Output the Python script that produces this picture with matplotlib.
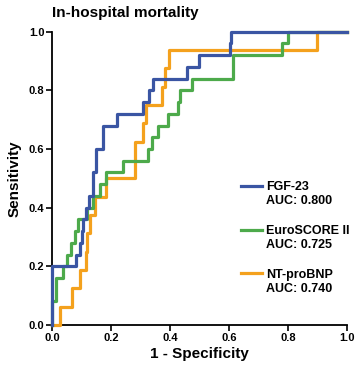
import matplotlib
matplotlib.use('Agg')
import matplotlib.pyplot as plt

# ROC step points (start of each horizontal run)
fgf_fpr = [0, 0, 0.081, 0.095, 0.103, 0.107, 0.117, 0.126, 0.138, 0.151, 0.174, 0.219, 0.31, 0.33, 0.341, 0.457, 0.5, 0.603, 0.607, 1.0]
fgf_tpr = [0, 0.20, 0.24, 0.28, 0.32, 0.36, 0.40, 0.44, 0.52, 0.60, 0.68, 0.72, 0.76, 0.80, 0.84, 0.88, 0.92, 0.96, 1.0, 1.0]

euro_fpr = [0, 0, 0.014, 0.038, 0.05, 0.065, 0.078, 0.09, 0.12, 0.14, 0.163, 0.185, 0.24, 0.325, 0.338, 0.36, 0.395, 0.427, 0.435, 0.474, 0.615, 0.779, 0.80, 1.0]
euro_tpr = [0, 0.08, 0.16, 0.20, 0.24, 0.28, 0.32, 0.36, 0.40, 0.44, 0.48, 0.52, 0.56, 0.60, 0.64, 0.68, 0.72, 0.76, 0.80, 0.84, 0.92, 0.96, 1.0, 1.0]

bnp_fpr = [0, 0.027, 0.067, 0.095, 0.115, 0.12, 0.129, 0.146, 0.183, 0.281, 0.31, 0.32, 0.372, 0.383, 0.397, 0.90, 1.0]
bnp_tpr = [0, 0.0625, 0.125, 0.1875, 0.25, 0.3125, 0.375, 0.4375, 0.50, 0.625, 0.6875, 0.75, 0.8125, 0.875, 0.9375, 1.0, 1.0]

labels = ['FGF-23\nAUC: 0.800', 'EuroSCORE II\nAUC: 0.725', 'NT-proBNP\nAUC: 0.740']
COLORS = ['#3A55A3', '#4DAA4B', '#F4A11D']
ticks = [0.0, 0.2, 0.4, 0.6, 0.8, 1.0]

plt.rcParams['font.family'] = ['Liberation Sans', 'DejaVu Sans']
plt.rcParams['font.weight'] = 'bold'

fig = plt.figure(figsize=(3.58, 3.68), dpi=100)
ax = fig.add_axes([0.145, 0.117, 0.824, 0.797])

series = [(fgf_fpr, fgf_tpr), (euro_fpr, euro_tpr), (bnp_fpr, bnp_tpr)]
# draw green and orange under blue like the original
for i in [2, 1, 0]:
    x, y = series[i]
    ax.plot(x, y, drawstyle='steps-post', color=COLORS[i], linewidth=2.3,
            label=labels[i], clip_on=False, zorder=3 + (2 - i))

ax.set_xlim(0, 1)
ax.set_ylim(0, 1)
ax.set_xticks(ticks)
ax.set_yticks(ticks)
ax.set_xticklabels(['%.1f' % t for t in ticks], fontsize=8, fontweight='bold')
ax.set_yticklabels(['%.1f' % t for t in ticks], fontsize=8, fontweight='bold')
ax.tick_params(direction='out', length=4, width=1.2, color='black', pad=1.5)
for s in ['top', 'right']:
    ax.spines[s].set_visible(False)
for s in ['left', 'bottom']:
    ax.spines[s].set_linewidth(1.3)

ax.set_xlabel('1 - Specificity', fontsize=11, fontweight='bold', labelpad=3)
ax.set_ylabel('Sensitivity', fontsize=11, fontweight='bold', labelpad=5)
fig.text(0.145, 0.985, 'In-hospital mortality', fontsize=11, fontweight='bold', va='top', ha='left')

handles, labs = ax.get_legend_handles_labels()
order = [2, 1, 0]
leg = ax.legend([handles[k] for k in order], [labs[k] for k in order],
                loc='upper left', bbox_to_anchor=(0.64, 0.49), frameon=False,
                borderaxespad=0, borderpad=0,
                prop={'size': 9, 'weight': 'bold'}, handlelength=1.7,
                handletextpad=0.3, labelspacing=1.45)
# put each legend line next to the first line of its label
for col in leg._legend_handle_box.get_children():
    for item in col.get_children():
        item.align = 'top'

fig.savefig('out.png', dpi=100)
